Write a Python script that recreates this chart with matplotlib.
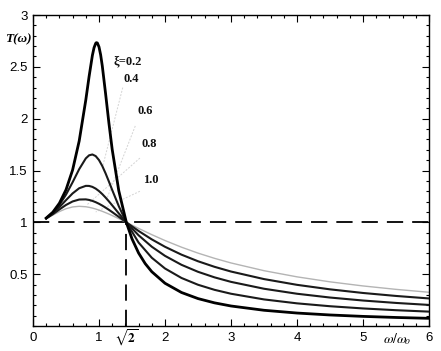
import matplotlib
matplotlib.use('Agg')
import matplotlib.pyplot as plt
from matplotlib.ticker import MultipleLocator
import matplotlib.transforms as mtransforms

# ---------------- data ----------------
damping = [0.2, 0.4, 0.6, 0.8, 1.0]

freq_ratio_fine = [0.2, 0.3, 0.4, 0.5, 0.6, 0.7, 0.8, 0.85, 0.9, 0.925, 0.95, 0.96,
                   0.975, 1.0, 1.025, 1.05, 1.1, 1.15, 1.2, 1.3, 1.4142, 1.5, 1.6,
                   1.7, 1.8, 2.0, 2.25, 2.5, 2.75, 3.0, 3.5, 4.0, 4.5, 5.0, 5.5, 6.0]
T_02 = [1.0414, 1.0973, 1.1843, 1.3138, 1.5046, 1.7849, 2.1798, 2.4067, 2.6110,
        2.6846, 2.7268, 2.7332, 2.7304, 2.6926, 2.6162, 2.5088, 2.2409, 1.9593,
        1.7035, 1.3045, 1.0, 0.8411, 0.7041, 0.6021, 0.5237, 0.4125, 0.3233,
        0.2646, 0.2234, 0.1931, 0.1518, 0.1251, 0.1065, 0.0928, 0.0824, 0.0741]

freq_ratio = [0.2, 0.3, 0.4, 0.5, 0.6, 0.7, 0.8, 0.85, 0.9, 0.95, 1.0, 1.05, 1.1,
              1.15, 1.2, 1.3, 1.4142, 1.6, 1.8, 2.0, 2.25, 2.5, 2.75, 3.0, 3.5,
              4.0, 4.5, 5.0, 5.5, 6.0]
T_04 = [1.0406, 1.0927, 1.1681, 1.2671, 1.3865, 1.5132, 1.6169, 1.6466, 1.6548,
        1.6392, 1.6008, 1.5433, 1.4724, 1.3938, 1.3127, 1.1560, 1.0, 0.8050,
        0.6584, 0.5549, 0.4634, 0.3980, 0.3491, 0.3113, 0.2565, 0.2186, 0.1908,
        0.1695, 0.1525, 0.1388]
T_06 = [1.0393, 1.0860, 1.1465, 1.2142, 1.2791, 1.3290, 1.3520, 1.3513, 1.3422,
        1.3254, 1.3017, 1.2725, 1.2390, 1.2026, 1.1643, 1.0863, 1.0, 0.8751,
        0.7649, 0.6768, 0.5903, 0.5230, 0.4694, 0.4259, 0.3595, 0.3113, 0.2747,
        0.2459, 0.2226, 0.2034]
T_08 = [1.0376, 1.0781, 1.1243, 1.1678, 1.2015, 1.2201, 1.2216, 1.2162, 1.2070,
        1.1946, 1.1793, 1.1616, 1.1420, 1.1210, 1.0990, 1.0531, 1.0, 0.9168,
        0.8356, 0.7643, 0.6883, 0.6247, 0.5711, 0.5255, 0.4527, 0.3972, 0.3537,
        0.3187, 0.2900, 0.2659]
T_10 = [1.0356, 1.0699, 1.1040, 1.1314, 1.1486, 1.1547, 1.1505, 1.1450, 1.1376,
        1.1286, 1.1180, 1.1063, 1.0935, 1.0799, 1.0656, 1.0356, 1.0, 0.9417,
        0.8812, 0.8246, 0.7604, 0.7033, 0.6529, 0.6083, 0.5337, 0.4743, 0.4261,
        0.3865, 0.3535, 0.3255]

curve_labels = ['\u03be=0.2', '0.4', '0.6', '0.8', '1.0']

x_tick_values = [0, 1, 2, 3, 4, 5, 6]
x_tick_labels = ['0', '1', '2', '3', '4', '5', '6']
y_tick_values = [0.5, 1, 1.5, 2, 2.5, 3]
y_tick_labels = ['0.5', '1', '1.5', '2', '2.5', '3']

unity_level = 1.0
crossover = 1.4142

# ---------------- figure ----------------
plt.rcParams['mathtext.fontset'] = 'stix'
fig = plt.figure(figsize=(4.41, 3.51), dpi=100)
ax = fig.add_axes([0.0748, 0.0712, 0.8980, 0.8860])
ax.set_xlim(0, 6)
ax.set_ylim(0, 3)

# reference dashed lines
ax.plot([0, 6], [unity_level, unity_level], color='black', lw=1.3,
        dashes=(9, 5), zorder=1)
ax.plot([crossover, crossover], [0, unity_level], color='black', lw=1.3,
        dashes=(9, 5), zorder=1)

# faint leader lines from labels to curves
leaders = [((1.36, 2.30), (1.06, 1.55)),
           ((1.55, 1.93), (1.12, 1.23)),
           ((1.62, 1.62), (0.82, 1.17)),
           ((1.62, 1.30), (0.95, 1.10))]
for (x0, y0), (x1, y1) in leaders:
    ax.plot([x0, x1], [y0, y1], color='#d4d4d4', lw=0.7, ls=(0, (2, 1.5)),
            zorder=1)

ax.plot(freq_ratio, T_10, color='#b4b4b4', lw=1.0, zorder=2)
ax.plot(freq_ratio, T_08, color='#1a1a1a', lw=1.5, zorder=3)
ax.plot(freq_ratio, T_06, color='#1a1a1a', lw=1.5, zorder=3)
ax.plot(freq_ratio, T_04, color='#1a1a1a', lw=1.5, zorder=3)
ax.plot(freq_ratio_fine, T_02, color='black', lw=2.0, zorder=4)

# curve labels
label_pos = [(1.43, 2.55), (1.49, 2.38), (1.70, 2.07), (1.76, 1.76), (1.78, 1.41)]
for (lx, ly), txt in zip(label_pos, curve_labels):
    ax.text(lx, ly, txt, fontsize=9, fontweight='bold',
            family=['Liberation Serif', 'DejaVu Serif'],
            ha='center', va='center', color='#111111')

# ticks
ax.set_xticks(x_tick_values)
ax.set_xticklabels(x_tick_labels)
ax.set_yticks(y_tick_values)
ax.set_yticklabels(y_tick_labels)
ax.xaxis.set_minor_locator(MultipleLocator(0.2))
ax.yaxis.set_minor_locator(MultipleLocator(0.1))
ax.tick_params(which='both', direction='in', top=True, right=True, width=0.8)
ax.tick_params(which='major', length=5, pad=4, labelsize=9.5)
ax.tick_params(which='minor', length=2.5)
for lab in ax.get_xticklabels() + ax.get_yticklabels():
    lab.set_family(['Liberation Sans', 'DejaVu Sans'])
for sp in ax.spines.values():
    sp.set_linewidth(1.0)

# axis labels
trans = mtransforms.blended_transform_factory(ax.transData, ax.transAxes)
ax.text(crossover, -0.006, r'$\sqrt{\mathbf{2}}$', transform=trans,
        ha='center', va='top', fontsize=9.5)
ax.text(-0.02, 2.77, 'T(\u03c9)', transform=ax.transData,
        ha='right', va='center', fontsize=9.5, fontweight='bold',
        style='italic', family=['Liberation Serif', 'DejaVu Serif'])
ax.text(5.52, -0.018, r'$\omega/\omega_{\!o}$', transform=trans,
        ha='center', va='top', fontsize=10)

fig.savefig('out.png', dpi=100)
